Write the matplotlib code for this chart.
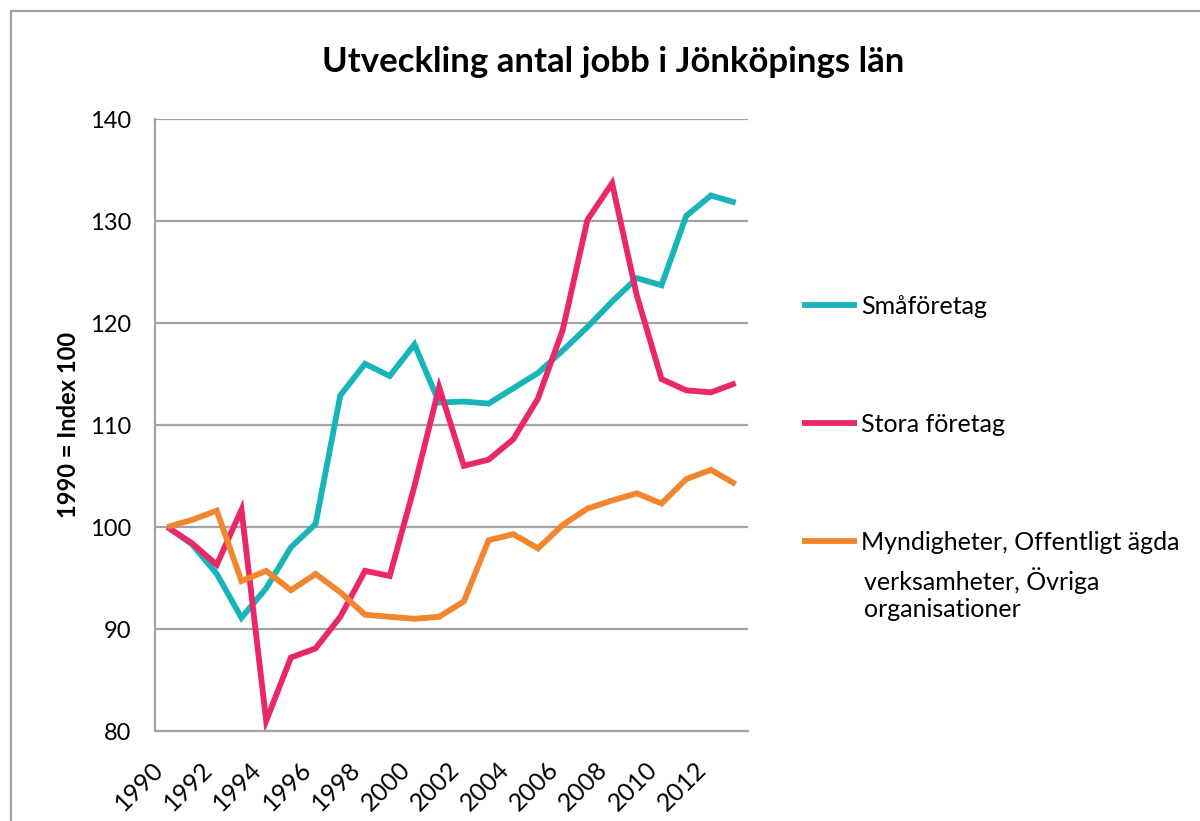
import matplotlib
matplotlib.use("Agg")
import matplotlib.pyplot as plt
from matplotlib.patches import Rectangle
from matplotlib.transforms import ScaledTranslation

years = list(range(1990, 2014))
smaforetag = [100, 98.3, 95.4, 91.1, 94.0, 98.0, 100.3, 112.9, 116.0, 114.8, 117.9, 112.2,
              112.3, 112.1, 113.6, 115.1, 117.3, 119.6, 122.1, 124.4, 123.7, 130.5, 132.5, 131.8]
stora = [100, 98.4, 96.3, 101.7, 81.0, 87.2, 88.1, 91.2, 95.7, 95.2, 104.0, 113.7,
         106.0, 106.6, 108.6, 112.6, 119.3, 130.1, 133.7, 122.7, 114.5, 113.4, 113.2, 114.1]
offentlig = [100, 100.7, 101.6, 94.7, 95.7, 93.8, 95.4, 93.6, 91.4, 91.2, 91.0, 91.2,
             92.7, 98.7, 99.3, 97.9, 100.2, 101.8, 102.6, 103.3, 102.3, 104.7, 105.6, 104.2]
series_names = ["Småföretag", "Stora företag", "Myndigheter, Offentligt ägda"]
extra_label_lines = "verksamheter, Övriga\norganisationer"
xtick_years = years[::2]
yticks = [80, 90, 100, 110, 120, 130, 140]
title = "Utveckling antal jobb i Jönköpings län"
ylabel = "1990 = Index 100"

colors = ["#17B4B9", "#EA2868", "#F1862F"]
grid_c = "#A3A3A3"

plt.rcParams['font.family'] = ['Lato', 'DejaVu Sans']

W, H = 1200, 821
fig = plt.figure(figsize=(W/100, H/100), dpi=100)
ax = fig.add_axes([155/W, 1 - 731/H, (748-155)/W, (731-119)/H])

for vals, c, name in zip([smaforetag, stora, offentlig], colors, series_names):
    ax.plot(years, vals, color=c, lw=4.2, label=name, solid_joinstyle='miter', solid_capstyle='butt')

ax.set_xlim(1989.5, 2013.5)
ax.set_ylim(80, 140)
ax.set_yticks(yticks)
ax.set_yticklabels([str(v) for v in yticks], fontsize=17)
ax.set_xticks(xtick_years)
ax.set_xticklabels([str(y) for y in xtick_years], fontsize=18, rotation=45, ha='right')
off = ScaledTranslation(7/100, 0, fig.dpi_scale_trans)
for lab in ax.get_xticklabels():
    lab.set_transform(lab.get_transform() + off)
ax.tick_params(axis='both', length=0)
ax.tick_params(axis='y', pad=17)
ax.tick_params(axis='x', pad=19)
ax.grid(axis='y', color=grid_c, lw=1.6)
ax.set_axisbelow(True)
for s in ['top', 'right']:
    ax.spines[s].set_visible(False)
for s in ['left', 'bottom']:
    ax.spines[s].set_color(grid_c)
    ax.spines[s].set_linewidth(1.6)

fig.text(613/W, 1 - 62/H, title, fontsize=25, fontweight='bold', ha='center', va='center')
fig.text(68/W, 1 - 425/H, ylabel, fontsize=17, fontweight='bold', rotation=90, ha='center', va='center')

leg = ax.legend(loc='upper left', bbox_to_anchor=(802/W, 1 - 295/H), bbox_transform=fig.transFigure,
                frameon=False, fontsize=18, handlelength=2.2, handletextpad=0.16, labelspacing=3.8,
                borderpad=0, borderaxespad=0)
fig.text(864/W, 1 - 594/H, extra_label_lines, fontsize=18, ha='left', va='center', linespacing=1.25)

fig.add_artist(Rectangle((11/W, -0.1), 1.2, 1 - 11/H + 0.1, transform=fig.transFigure,
                         fill=False, edgecolor=grid_c, lw=1.6))

fig.savefig("out.png", dpi=100)
